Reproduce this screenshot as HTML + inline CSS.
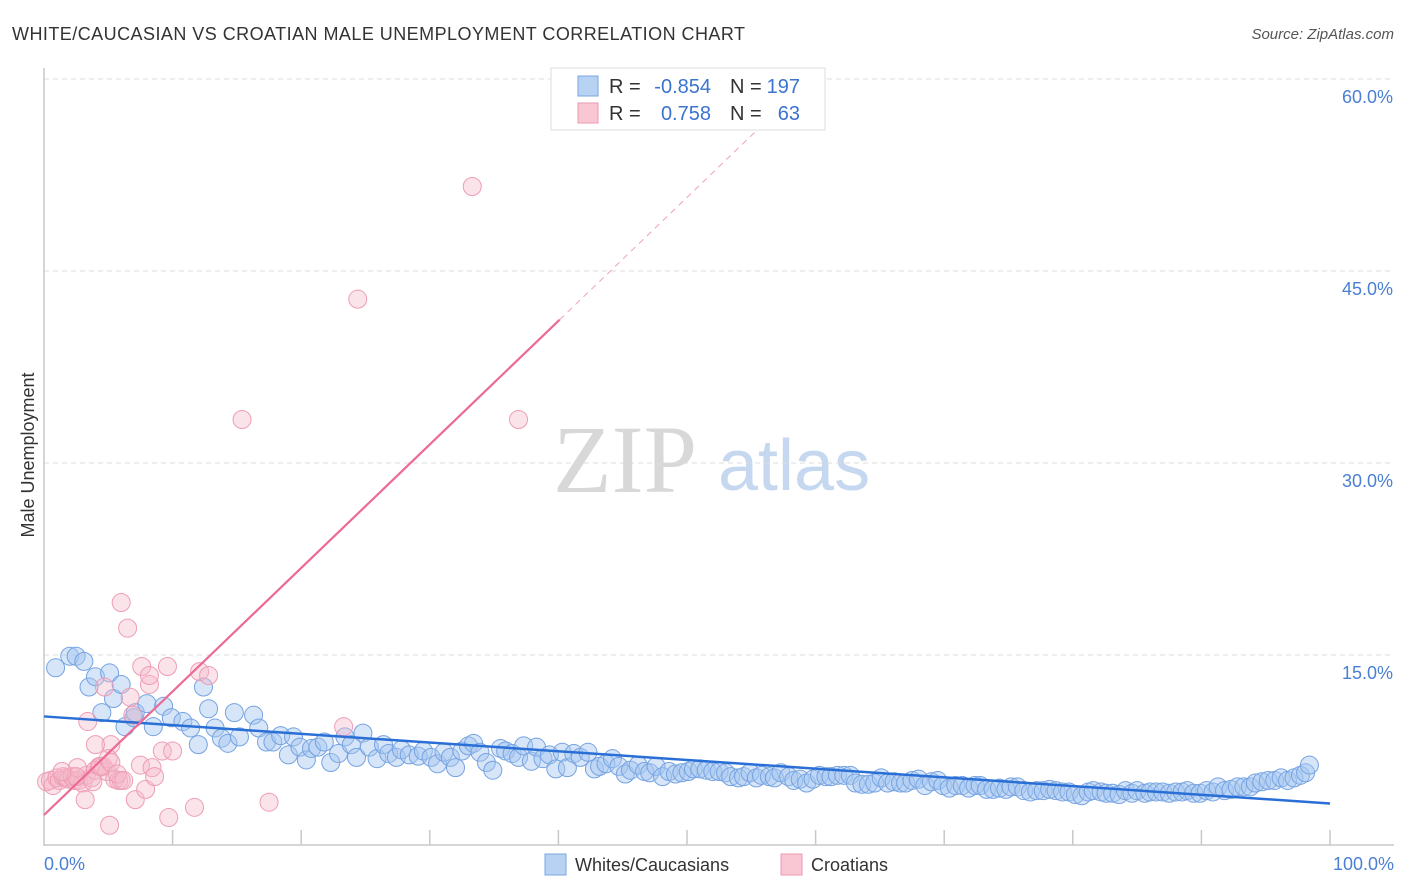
<!DOCTYPE html>
<html><head><meta charset="utf-8"><style>
body{margin:0;background:#fff;font-family:"Liberation Sans",sans-serif}
svg{display:block}
</style></head><body>
<svg id="c" width="1406" height="892" xmlns="http://www.w3.org/2000/svg">
<text x="12" y="40" font-size="18" fill="#333" textLength="733">WHITE/CAUCASIAN VS CROATIAN MALE UNEMPLOYMENT CORRELATION CHART</text>
<text x="1394" y="39" font-size="15" fill="#555" font-style="italic" text-anchor="end">Source: ZipAtlas.com</text>
<g>
<text x="553" y="492" font-family="Liberation Serif,serif" font-size="96" fill="#d8d8d8">ZIP</text>
<text x="718" y="490" font-size="72" fill="#c5d8f0">atlas</text>
</g>
<text transform="translate(34,455) rotate(-90)" font-size="18" fill="#333" text-anchor="middle">Male Unemployment</text>
<g id="grid"></g><g id="axes"></g><g id="pts"></g><g id="lines"></g>
<g font-size="20">
<rect x="551" y="68" width="274" height="62" fill="#fff" stroke="#ddd"/>
<rect x="578" y="76" width="20" height="20" fill="#b8d2f3" stroke="#7aa5e3"/>
<rect x="578" y="103" width="20" height="20" fill="#f9c6d4" stroke="#eb9ab2"/>
<text x="609" y="93" fill="#333">R =</text>
<text x="711" y="93" fill="#3a73d0" text-anchor="end">-0.854</text>
<text x="730" y="93" fill="#333">N =</text>
<text x="800" y="93" fill="#3a73d0" text-anchor="end">197</text>
<text x="609" y="120" fill="#333">R =</text>
<text x="711" y="120" fill="#3a73d0" text-anchor="end">0.758</text>
<text x="730" y="120" fill="#333">N =</text>
<text x="800" y="120" fill="#3a73d0" text-anchor="end">63</text>
</g>
<g>
<rect x="545" y="854" width="21" height="21" fill="#b8d2f3" stroke="#7aa5e3"/>
<text x="575" y="871" font-size="18" fill="#333">Whites/Caucasians</text>
<rect x="781" y="854" width="21" height="21" fill="#f9c6d4" stroke="#eb9ab2"/>
<text x="811" y="871" font-size="18" fill="#333">Croatians</text>
</g>
</svg>
<script>
const yTicks=[15,30,45,60];
const yTickLabels=["15.0%","30.0%","45.0%","60.0%"];
const xTickLabels=["0.0%","100.0%"];
const blueX=[0.9,2.0,2.5,3.1,3.5,4.0,4.5,5.1,5.4,6.0,6.3,7.0,7.1,8.0,8.5,9.3,9.9,10.8,11.4,12.0,12.4,12.8,13.3,13.8,14.3,14.8,15.2,16.3,16.7,17.3,17.8,18.4,19.0,19.4,19.9,20.4,20.8,21.3,21.8,22.3,22.9,23.4,23.9,24.3,24.8,25.3,25.9,26.4,26.8,27.4,27.8,28.4,29.1,29.5,30.1,30.6,31.1,31.6,32.0,32.5,33.0,33.4,33.9,34.4,34.9,35.5,35.9,36.4,36.9,37.3,37.9,38.3,38.8,39.3,39.8,40.3,40.7,41.2,41.7,42.3,42.8,43.2,43.7,44.2,44.7,45.2,45.6,46.2,46.7,47.1,47.6,48.1,48.6,49.1,49.6,50.1,50.5,51.0,51.5,52.0,52.5,53.0,53.4,54.0,54.4,54.9,55.4,55.8,56.4,56.8,57.3,57.9,58.3,58.8,59.3,59.8,60.3,60.8,61.2,61.7,62.2,62.7,63.1,63.6,64.1,64.6,65.1,65.6,66.1,66.6,67.0,67.5,68.0,68.5,69.0,69.5,69.9,70.4,70.9,71.4,71.9,72.4,72.8,73.3,73.8,74.3,74.8,75.2,75.7,76.2,76.7,77.2,77.7,78.2,78.7,79.2,79.7,80.2,80.7,81.2,81.6,82.2,82.6,83.1,83.6,84.1,84.6,85.0,85.6,86.0,86.5,87.0,87.5,88.0,88.5,88.9,89.4,89.9,90.4,90.9,91.3,91.8,92.3,92.8,93.3,93.8,94.2,94.7,95.2,95.7,96.2,96.7,97.2,97.7,98.1,98.4];
const blueY=[14.0,14.9,14.9,14.5,12.5,13.3,10.5,13.6,11.6,12.7,9.4,10.1,10.5,11.2,9.4,11.0,10.1,9.8,9.3,8.0,12.5,10.8,9.3,8.5,8.1,10.5,8.6,10.3,9.3,8.2,8.2,8.7,7.2,8.6,7.8,6.8,7.7,7.8,8.2,6.6,7.3,8.6,8.0,7.0,8.9,7.8,6.9,8.0,7.3,7.0,7.6,7.2,7.1,7.5,7.0,6.5,7.4,7.0,6.2,7.5,7.9,8.1,7.4,6.6,6.0,7.7,7.5,7.3,7.0,7.9,6.7,7.8,6.9,7.2,6.1,7.4,6.2,7.3,7.0,7.4,6.1,6.3,6.5,6.9,6.3,5.7,6.0,6.4,5.9,5.8,6.3,5.5,5.9,5.7,5.8,5.9,6.1,6.1,6.0,5.9,5.9,5.8,5.5,5.4,5.5,5.8,5.4,5.6,5.5,5.4,5.8,5.5,5.2,5.3,5.0,5.3,5.6,5.5,5.5,5.6,5.6,5.6,5.0,4.9,4.9,5.0,5.4,5.0,5.1,5.0,5.0,5.2,5.3,4.8,5.1,5.2,4.8,4.6,4.8,4.8,4.6,4.8,4.8,4.5,4.5,4.6,4.5,4.7,4.7,4.4,4.3,4.4,4.4,4.5,4.4,4.3,4.3,4.1,4.0,4.3,4.4,4.3,4.2,4.2,4.1,4.4,4.2,4.4,4.2,4.3,4.3,4.3,4.2,4.3,4.3,4.4,4.2,4.2,4.4,4.3,4.7,4.4,4.5,4.7,4.7,4.7,5.0,5.1,5.2,5.2,5.4,5.2,5.4,5.6,5.8,6.4];
const pinkX=[0.2,0.5,0.7,1.0,1.2,1.5,1.7,1.9,2.2,2.4,2.7,3.0,3.3,3.7,4.0,4.3,4.6,4.9,5.2,5.5,5.8,6.0,2.6,3.2,3.4,4.0,4.4,4.7,5.0,5.2,5.7,6.0,6.5,6.7,6.9,7.1,7.5,7.6,7.9,8.2,8.2,8.4,8.6,9.2,9.6,9.7,10.0,11.7,12.1,12.8,15.4,17.5,23.3,24.4,33.3,36.9,5.1,2.5,3.8,6.2,1.4];
const pinkY=[5.1,5.2,4.8,5.4,5.2,5.5,5.4,5.3,5.5,5.2,5.2,5.0,5.6,5.4,6.0,6.3,6.3,5.9,8.0,5.3,5.2,5.2,6.2,3.7,9.8,8.0,6.3,12.5,6.9,6.6,5.7,19.1,17.1,11.7,10.3,3.7,6.4,14.1,4.5,12.7,13.4,6.2,5.5,7.5,14.1,2.3,7.5,3.1,13.7,13.4,33.4,3.5,9.4,42.8,51.6,33.4,1.7,5.5,5.1,5.2,5.9];
const blueTrend=[10.2,3.4];
const pinkTrend=[2.5,0.965];
const NS="http://www.w3.org/2000/svg";
const X0=44,X1=1330,Y0=847,PX=12.8;
const sx=v=>X0+v*(X1-X0)/100, sy=v=>Y0-v*PX;
function mk(tag,attrs,parent){const e=document.createElementNS(NS,tag);for(const k in attrs)e.setAttribute(k,attrs[k]);document.getElementById(parent).appendChild(e);return e;}
yTicks.forEach((t,i)=>{
 const l=mk('line',{x1:X0,x2:1394,y1:sy(t),y2:sy(t),stroke:'#ddd','stroke-dasharray':'5,4'},'grid');
 
 
 const tx=mk('text',{x:1393,y:sy(t)+24,'font-size':18,fill:'#4a7fd4','text-anchor':'end'},'grid');
 tx.textContent=yTickLabels[i];
 
 
});
const ax=mk('line',{x1:X0,x2:X0,y1:68,y2:846,stroke:'#c8c8c8','stroke-width':1.5},'axes');


const bx=mk('line',{x1:X0,x2:1394,y1:845,y2:845,stroke:'#c8c8c8','stroke-width':1.5},'axes');


for(let i=1;i<=10;i++){const t=mk('line',{x1:sx(i*10),x2:sx(i*10),y1:830,y2:845,stroke:'#c8c8c8','stroke-width':1.5},'axes');
 
 }
const xl0=mk('text',{x:44,y:870,'font-size':18,fill:'#4a7fd4'},'axes');xl0.textContent=xTickLabels[0];


const xl1=mk('text',{x:1394,y:870,'font-size':18,fill:'#4a7fd4','text-anchor':'end'},'axes');xl1.textContent=xTickLabels[1];


blueX.forEach((x,i)=>{const c=mk('circle',{cx:sx(x),cy:sy(blueY[i]),r:9,fill:'rgba(165,198,240,0.45)',stroke:'#76a3e2','stroke-width':1},'pts');
 
 });
pinkX.forEach((x,i)=>{const c=mk('circle',{cx:sx(x),cy:sy(pinkY[i]),r:9,fill:'rgba(246,185,203,0.4)',stroke:'#ee9db4','stroke-width':1},'pts');
 
 });
const bl=mk('line',{x1:sx(0),y1:sy(blueTrend[0]),x2:sx(100),y2:sy(blueTrend[1]),stroke:'#2a6fd6','stroke-width':2.5},'lines');


const pe=40.1,pd=55.7;
const pl=mk('line',{x1:sx(0),y1:sy(pinkTrend[0]),x2:sx(pe),y2:sy(pinkTrend[0]+pinkTrend[1]*pe),stroke:'#ec6a94','stroke-width':2.2},'lines');


const pdl=mk('line',{x1:sx(pe),y1:sy(pinkTrend[0]+pinkTrend[1]*pe),x2:sx(pd),y2:sy(pinkTrend[0]+pinkTrend[1]*pd),stroke:'#f0a0bb','stroke-width':1,'stroke-dasharray':'6,5'},'lines');


</script>
</body></html>
